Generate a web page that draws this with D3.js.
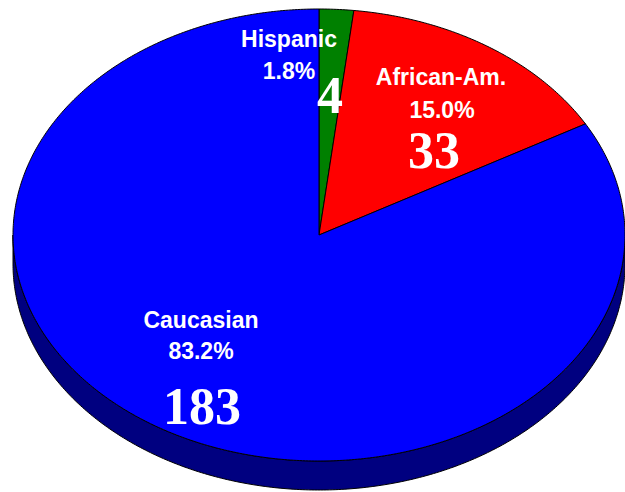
<!DOCTYPE html>
<html>
<head>
<meta charset="utf-8">
<script src="https://cdn.jsdelivr.net/npm/d3@7"></script>
<style>
  html, body { margin: 0; padding: 0; background: #ffffff; }
  svg { display: block; }
</style>
</head>
<body>
<svg id="chart" width="625" height="492"></svg>
<script>
// ---- data ----
const categories = ["Hispanic", "African-Am.", "Caucasian"];
const counts = [4, 33, 183];
const topColors = ["#008000", "#FF0000", "#0000FF"];
const sideColors = ["#004000", "#800000", "#000080"];

// ---- layout (not data) ----
const W = 625, H = 492;
const cx = 319, cy = 235, rx = 306, ry = 226, depth = 29;
const labelPos = [
  { name: [289, 47], pct: [289, 79], cnt: [330, 113] },
  { name: [441, 85], pct: [442, 118], cnt: [434, 168] },
  { name: [201, 328], pct: [201, 359], cnt: [202, 424] }
];

const svg = d3.select("#chart");
const total = d3.sum(counts);
const pctFmt = d3.format(".1%");

const pie = d3.pie().sort(null).value(d => d.value).startAngle(0).endAngle(2 * Math.PI);
const arcs = pie(categories.map((c, i) => ({ name: c, value: counts[i], i })));

// elliptical projection of a pie angle (clockwise from 12 o'clock)
const px = (t) => cx + rx * Math.sin(t);
const py = (t, dz = 0) => cy - ry * Math.cos(t) + dz;

function sample(a0, a1, dz) {
  const n = Math.max(2, Math.ceil(Math.abs(a1 - a0) / 0.01));
  const pts = [];
  for (let k = 0; k <= n; k++) {
    const t = a0 + (a1 - a0) * k / n;
    pts.push([px(t), py(t, dz)]);
  }
  return pts;
}
const line = d3.line();

// ---- side walls (front half only: pi/2 .. 3pi/2) ----
const sideG = svg.append("g");
arcs.forEach(a => {
  const s0 = Math.max(a.startAngle, Math.PI / 2);
  const s1 = Math.min(a.endAngle, 3 * Math.PI / 2);
  if (s1 <= s0) return;
  const top = sample(s0, s1, 0);
  const bot = sample(s1, s0, depth);
  sideG.append("path")
    .attr("d", line(top.concat(bot)) + "Z")
    .attr("fill", sideColors[a.data.i])
    .attr("stroke", "#000")
    .attr("stroke-width", 1)
    .attr("stroke-linejoin", "round");
});

// ---- top faces ----
const topG = svg.append("g");
arcs.forEach(a => {
  const pts = [[cx, cy]].concat(sample(a.startAngle, a.endAngle, 0));
  topG.append("path")
    .attr("d", line(pts) + "Z")
    .attr("fill", topColors[a.data.i])
    .attr("stroke", "#000")
    .attr("stroke-width", 1)
    .attr("stroke-linejoin", "round");
});

// ---- labels ----
const lg = svg.append("g").attr("fill", "#fff").attr("text-anchor", "middle");
arcs.forEach(a => {
  const p = labelPos[a.data.i];
  lg.append("text")
    .attr("x", p.name[0]).attr("y", p.name[1])
    .attr("font-family", "Arial, 'Liberation Sans', sans-serif")
    .attr("font-weight", "bold").attr("font-size", 23)
    .text(a.data.name);
  lg.append("text")
    .attr("x", p.pct[0]).attr("y", p.pct[1])
    .attr("font-family", "Arial, 'Liberation Sans', sans-serif")
    .attr("font-weight", "bold").attr("font-size", 23)
    .text(pctFmt(a.data.value / total));
  lg.append("text")
    .attr("x", p.cnt[0]).attr("y", p.cnt[1])
    .attr("font-family", "'Times New Roman', 'Liberation Serif', serif")
    .attr("font-weight", "bold").attr("font-size", 52)
    .text(a.data.value);
});
</script>
</body>
</html>
